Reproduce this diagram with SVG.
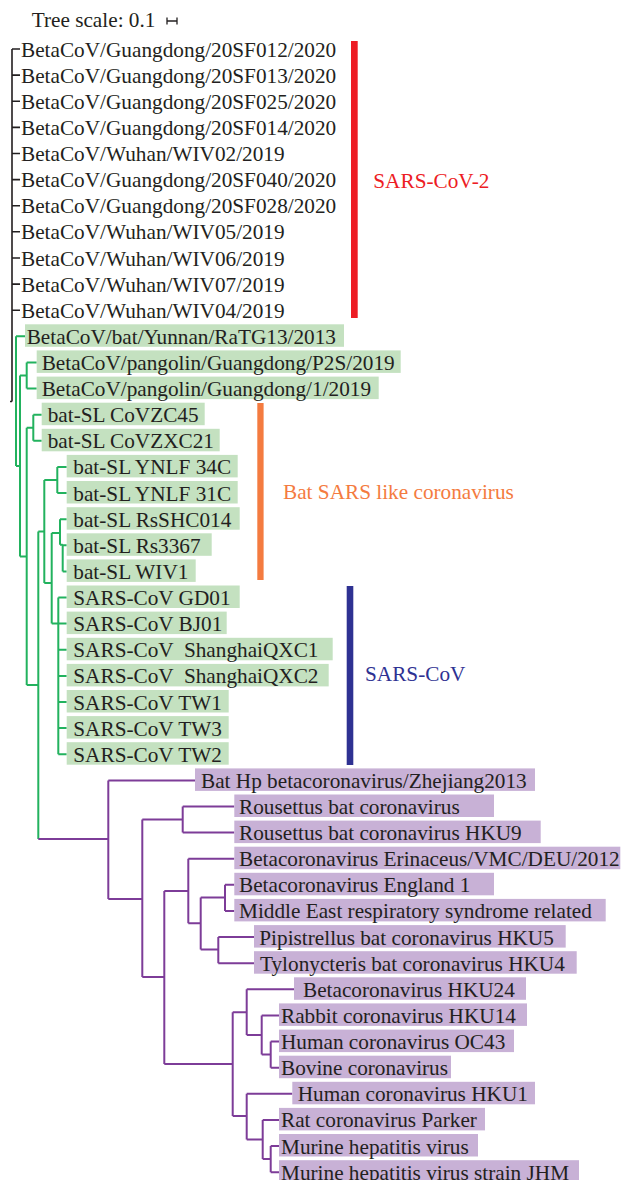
<svg xmlns="http://www.w3.org/2000/svg" width="622" height="1180" viewBox="0 0 622 1180">
<style>
text{font-family:"Liberation Serif","Times New Roman",serif;font-size:21.25px;fill:#231f20}
.g{fill:#c4e1c0}.p{fill:#c8b1d6}
.bk{stroke:#231f20;stroke-width:1.6;fill:none}
.gr{stroke:#22b25e;stroke-width:2;fill:none}
.pu{stroke:#7d3c98;stroke-width:2;fill:none}
</style>
<rect width="622" height="1180" fill="#fff"/>
<g id="scale">
<text x="31.7" y="27">Tree scale: 0.1</text>
<path d="M167 21H177M167 17.5V24.5M177 17.5V24.5" stroke="#231f20" stroke-width="1.3" fill="none"/>
</g>
<g id="connectors">
<path class="bk" d="M12 49V401.5M10 401.5H12M12 49H20M12 75.1H20M12 101.2H20M12 127.4H20M12 153.5H20M12 179.6H20M12 205.7H20M12 231.8H20M12 258H20M12 284.1H20M12 310.2H20"/>
<path class="gr" d="M16 336.3V466M16 336.3H25M16 466H20M20 375.5V556.5M20 375.5H26.7M26.7 362.4V388.6M26.7 362.4H36.7M26.7 388.6H36.7M20 556.5H26.7M26.7 427.8V685M26.7 427.8H33.3M33.3 414.7V440.8M33.3 414.7H41.7M33.3 440.8H41.7M26.7 685H38.3M38.3 531.5V839M38.3 531.5H44.3M44.3 480V583M44.3 480H57.3M57.3 466.9V493M57.3 466.9H66.7M57.3 493H66.7M44.3 583H51.7M51.7 533V623.6M51.7 533H60M60 519.2V544.8M60 519.2H66.7M60 544.8H62.7M62.7 544.8V571.4M62.7 545.3H66.7M62.7 571.4H66.7M51.7 623.6H58.3M58.3 597.5V754.2M58.3 597.5H66.7M58.3 623.6H66.7M58.3 649.8H66.7M58.3 675.9H66.7M58.3 702H66.7M58.3 728.1H66.7M58.3 754.2H66.7"/>
<path class="pu" d="M38.3 839H108.3M108.3 780.4V899M108.3 780.4H195M108.3 899H142.3M142.3 819.5V977M142.3 819.5H182.7M182.7 806.5V832.6M182.7 806.5H234.3M182.7 832.6H234.3M142.3 977H164.3M164.3 891V1064M164.3 891H188.3M188.3 858.7V923.3M188.3 858.7H234.3M188.3 923.3H200.7M200.7 897.5V949.5M200.7 897.5H225M225 884.8V910.9M225 884.8H234.3M225 910.9H234.3M200.7 949.5H218.3M218.3 937.1V963.2M218.3 937.1H254M218.3 963.2H254M164.3 1064H232.7M232.7 1012.3V1116M232.7 1012.3H246.7M246.7 989.3V1035M246.7 989.3H294M246.7 1035H261.7M261.7 1015.4V1054.6M261.7 1015.4H279M261.7 1054.6H270.7M270.7 1041.6V1067.7M270.7 1041.6H279M270.7 1067.7H279M232.7 1116H246.7M246.7 1093.8V1139.5M246.7 1093.8H292.3M246.7 1139.5H262.7M262.7 1119.9V1159M262.7 1119.9H279M262.7 1159H270.7M270.7 1146V1172.2M270.7 1146H279M270.7 1172.2H279"/>
</g>
<g id="sarscov2-leaves">
<g id="n0"><text x="21" y="56.5">BetaCoV/Guangdong/20SF012/2020</text></g>
<g id="n1"><text x="21" y="82.6">BetaCoV/Guangdong/20SF013/2020</text></g>
<g id="n2"><text x="21" y="108.7">BetaCoV/Guangdong/20SF025/2020</text></g>
<g id="n3"><text x="21" y="134.9">BetaCoV/Guangdong/20SF014/2020</text></g>
<g id="n4"><text x="21" y="161">BetaCoV/Wuhan/WIV02/2019</text></g>
<g id="n5"><text x="21" y="187.1">BetaCoV/Guangdong/20SF040/2020</text></g>
<g id="n6"><text x="21" y="213.2">BetaCoV/Guangdong/20SF028/2020</text></g>
<g id="n7"><text x="21" y="239.3">BetaCoV/Wuhan/WIV05/2019</text></g>
<g id="n8"><text x="21" y="265.5">BetaCoV/Wuhan/WIV06/2019</text></g>
<g id="n9"><text x="21" y="291.6">BetaCoV/Wuhan/WIV07/2019</text></g>
<g id="n10"><text x="21" y="317.7">BetaCoV/Wuhan/WIV04/2019</text></g>
</g>
<g id="green-leaves">
<g id="n11"><rect class="g" x="25" y="324.3" width="319" height="22.5"/><text x="26.7" y="343.8">BetaCoV/bat/Yunnan/RaTG13/2013</text></g>
<g id="n12"><rect class="g" x="36.7" y="350.4" width="364" height="22.5"/><text x="41.7" y="369.9">BetaCoV/pangolin/Guangdong/P2S/2019</text></g>
<g id="n13"><rect class="g" x="36.7" y="376.6" width="342" height="22.5"/><text x="41.7" y="396.1">BetaCoV/pangolin/Guangdong/1/2019</text></g>
<g id="n14"><rect class="g" x="41.7" y="402.7" width="163" height="22.5"/><text x="47.7" y="422.2">bat-SL CoVZC45</text></g>
<g id="n15"><rect class="g" x="41.7" y="428.8" width="178" height="22.5"/><text x="47.7" y="448.3">bat-SL CoVZXC21</text></g>
<g id="n16"><rect class="g" x="66.7" y="454.9" width="171" height="22.5"/><text x="73.3" y="474.4">bat-SL YNLF 34C</text></g>
<g id="n17"><rect class="g" x="66.7" y="481" width="171" height="22.5"/><text x="73.3" y="500.5">bat-SL YNLF 31C</text></g>
<g id="n18"><rect class="g" x="66.7" y="507.2" width="173" height="22.5"/><text x="73.3" y="526.7">bat-SL RsSHC014</text></g>
<g id="n19"><rect class="g" x="66.7" y="533.3" width="145" height="22.5"/><text x="73.3" y="552.8">bat-SL Rs3367</text></g>
<g id="n20"><rect class="g" x="66.7" y="559.4" width="129" height="22.5"/><text x="73.3" y="578.9">bat-SL WIV1</text></g>
<g id="n21"><rect class="g" x="66.7" y="585.5" width="173" height="22.5"/><text x="73.3" y="605">SARS-CoV GD01</text></g>
<g id="n22"><rect class="g" x="66.7" y="611.6" width="160" height="22.5"/><text x="73.3" y="631.1">SARS-CoV BJ01</text></g>
<g id="n23"><rect class="g" x="66.7" y="637.8" width="266" height="22.5"/><text x="73.3" y="657.3" xml:space="preserve">SARS-CoV  ShanghaiQXC1</text></g>
<g id="n24"><rect class="g" x="66.7" y="663.9" width="262" height="22.5"/><text x="73.3" y="683.4" xml:space="preserve">SARS-CoV  ShanghaiQXC2</text></g>
<g id="n25"><rect class="g" x="66.7" y="690" width="162" height="22.5"/><text x="73.3" y="709.5">SARS-CoV TW1</text></g>
<g id="n26"><rect class="g" x="66.7" y="716.1" width="162" height="22.5"/><text x="73.3" y="735.6">SARS-CoV TW3</text></g>
<g id="n27"><rect class="g" x="66.7" y="742.2" width="162" height="22.5"/><text x="73.3" y="761.7">SARS-CoV TW2</text></g>
</g>
<g id="purple-leaves">
<g id="n28"><rect class="p" x="195" y="768.4" width="340" height="22.5"/><text x="201" y="787.9">Bat Hp betacoronavirus/Zhejiang2013</text></g>
<g id="n29"><rect class="p" x="234.3" y="794.5" width="259.7" height="22.5"/><text x="239" y="814">Rousettus bat coronavirus</text></g>
<g id="n30"><rect class="p" x="234.3" y="820.6" width="306.4" height="22.5"/><text x="239" y="840.1">Rousettus bat coronavirus HKU9</text></g>
<g id="n31"><rect class="p" x="234.3" y="846.7" width="386" height="22.5"/><text x="239" y="866.2">Betacoronavirus Erinaceus/VMC/DEU/2012</text></g>
<g id="n32"><rect class="p" x="234.3" y="872.8" width="259.7" height="22.5"/><text x="239" y="892.3">Betacoronavirus England 1</text></g>
<g id="n33"><rect class="p" x="234.3" y="898.9" width="371.4" height="22.5"/><text x="239" y="918.4">Middle East respiratory syndrome related</text></g>
<g id="n34"><rect class="p" x="254" y="925.1" width="311.7" height="22.5"/><text x="259.3" y="944.6">Pipistrellus bat coronavirus HKU5</text></g>
<g id="n35"><rect class="p" x="254" y="951.2" width="322.7" height="22.5"/><text x="260" y="970.7">Tylonycteris bat coronavirus HKU4</text></g>
<g id="n36"><rect class="p" x="294" y="977.3" width="232" height="22.5"/><text x="303" y="996.8">Betacoronavirus HKU24</text></g>
<g id="n37"><rect class="p" x="279" y="1003.4" width="248" height="22.5"/><text x="281" y="1022.9">Rabbit coronavirus HKU14</text></g>
<g id="n38"><rect class="p" x="279" y="1029.6" width="235" height="22.5"/><text x="281" y="1049.1">Human coronavirus OC43</text></g>
<g id="n39"><rect class="p" x="279" y="1055.7" width="172" height="22.5"/><text x="281" y="1075.2">Bovine coronavirus</text></g>
<g id="n40"><rect class="p" x="292.3" y="1081.8" width="242.7" height="22.5"/><text x="297.7" y="1101.3">Human coronavirus HKU1</text></g>
<g id="n41"><rect class="p" x="279" y="1107.9" width="206" height="22.5"/><text x="281" y="1127.4">Rat coronavirus Parker</text></g>
<g id="n42"><rect class="p" x="279" y="1134" width="199" height="22.5"/><text x="281" y="1153.5">Murine hepatitis virus</text></g>
<g id="n43"><rect class="p" x="279" y="1160.2" width="300" height="22.5"/><text x="281" y="1179.7">Murine hepatitis virus strain JHM</text></g>
</g>
<g id="clade-sarscov2">
<rect x="351" y="41" width="6.7" height="277" fill="#ed1c24"/>
<text x="373.3" y="188" style="fill:#ed1c24">SARS-CoV-2</text>
</g>
<g id="clade-batsl">
<rect x="257.3" y="403" width="6.3" height="177" fill="#f47b40"/>
<text x="283" y="498.5" style="fill:#f47b40">Bat SARS like coronavirus</text>
</g>
<g id="clade-sarscov">
<rect x="346.7" y="586" width="6.6" height="179" fill="#2e3192"/>
<text x="365" y="680.5" style="fill:#2e3192">SARS-CoV</text>
</g>
</svg>
